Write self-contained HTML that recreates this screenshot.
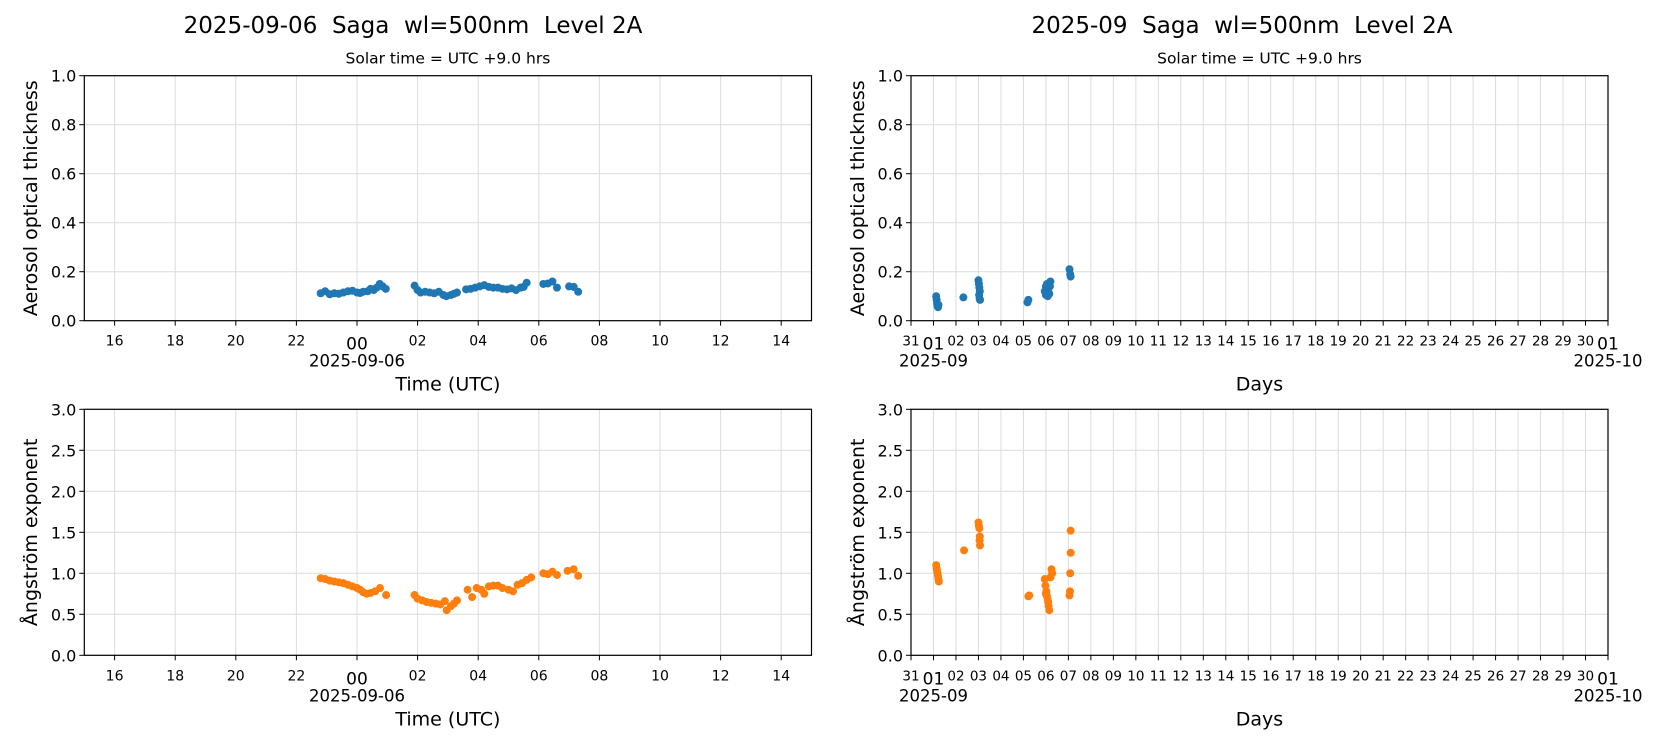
<!DOCTYPE html>
<html><head><meta charset="utf-8">
<style>
html,body{margin:0;padding:0;background:#fff;}
svg{display:block;font-family:"DejaVu Sans","Liberation Sans",sans-serif;}
text{white-space:pre;}
</style></head>
<body>
<svg id="fig" width="1654" height="737" viewBox="0 0 1654 737" xmlns="http://www.w3.org/2000/svg" xml:space="preserve">
<rect width="1654" height="737" fill="#fff"/>
<text x="413" y="33" font-size="23" text-anchor="middle">2025-09-06  Saga  wl=500nm  Level 2A</text>
<text x="1242" y="33" font-size="23" text-anchor="middle">2025-09  Saga  wl=500nm  Level 2A</text>
<g id="plots"></g>
</svg>
<script>
// Daily panel data: hours relative to 2025-09-06 00:00 UTC
const dayAotHours=[-1.2,-1.05,-0.9,-0.75,-0.6,-0.45,-0.3,-0.15,0,0.1,0.2,0.35,0.45,0.55,0.65,0.75,0.85,0.95,1.9,2.0,2.1,2.25,2.4,2.55,2.7,2.85,2.95,3.1,3.2,3.3,3.6,3.75,3.9,4.05,4.2,4.35,4.5,4.65,4.8,4.95,5.1,5.25,5.4,5.5,5.6,6.15,6.3,6.45,6.6,7.0,7.15,7.3];
const dayAotValues=[0.112,0.12,0.108,0.112,0.11,0.115,0.12,0.122,0.115,0.113,0.118,0.12,0.13,0.125,0.135,0.15,0.14,0.13,0.143,0.125,0.115,0.118,0.115,0.112,0.118,0.105,0.1,0.105,0.11,0.115,0.128,0.13,0.135,0.14,0.145,0.138,0.135,0.135,0.13,0.128,0.132,0.125,0.135,0.138,0.155,0.15,0.152,0.16,0.135,0.14,0.138,0.118];
const dayAngHours=[-1.2,-1.05,-0.9,-0.75,-0.6,-0.45,-0.3,-0.15,0,0.1,0.2,0.32,0.45,0.6,0.76,0.96,1.9,2.0,2.15,2.3,2.45,2.6,2.75,2.9,2.96,3.1,3.2,3.3,3.65,3.8,3.95,4.1,4.2,4.35,4.5,4.65,4.8,5.0,5.15,5.3,5.45,5.6,5.75,6.15,6.3,6.45,6.6,6.95,7.15,7.3];
const dayAngValues=[0.94,0.93,0.91,0.9,0.89,0.88,0.86,0.84,0.82,0.8,0.77,0.75,0.76,0.78,0.82,0.735,0.735,0.69,0.67,0.65,0.64,0.63,0.62,0.66,0.55,0.6,0.63,0.67,0.8,0.71,0.82,0.8,0.75,0.84,0.85,0.85,0.82,0.8,0.78,0.86,0.88,0.92,0.95,1.0,0.99,1.02,0.98,1.03,1.05,0.97];
// Monthly panel data: days since 2025-08-31 00:00 UTC
const monAotDays=[1.12,1.14,1.16,1.18,1.2,1.22,2.33,3.0,3.02,3.04,3.06,3.03,3.05,3.07,5.18,5.22,5.95,6.0,6.05,6.1,6.15,6.2,6.0,6.08,6.18,7.05,7.08,7.1];
const monAotValues=[0.1,0.085,0.07,0.06,0.055,0.065,0.095,0.165,0.15,0.135,0.12,0.105,0.09,0.085,0.075,0.085,0.12,0.14,0.15,0.13,0.11,0.16,0.105,0.1,0.14,0.21,0.19,0.18];
const monAngDays=[1.12,1.14,1.16,1.18,1.2,1.22,1.24,2.36,3.0,3.02,3.04,3.06,3.05,3.07,5.22,5.26,5.95,5.98,6.02,6.05,6.1,6.12,6.15,6.2,6.25,6.28,6.0,6.08,7.05,7.07,7.08,7.1,7.1];
const monAngValues=[1.1,1.06,1.03,1.0,0.97,0.93,0.9,1.28,1.62,1.58,1.55,1.45,1.4,1.34,0.72,0.73,0.93,0.85,0.78,0.72,0.65,0.6,0.55,0.95,1.05,1.0,0.75,0.68,0.73,0.78,1.0,1.25,1.52];
const dayHourTicks=[-8,-6,-4,-2,0,2,4,6,8,10,12,14];
const dayHourLabels=["16","18","20","22","00","02","04","06","08","10","12","14"];
const aotTicks=[0,0.2,0.4,0.6,0.8,1.0];
const angTicks=[0,0.5,1.0,1.5,2.0,2.5,3.0];
const monDayLabels=["31","01","02","03","04","05","06","07","08","09","10","11","12","13","14","15","16","17","18","19","20","21","22","23","24","25","26","27","28","29","30","01"];

const NS="http://www.w3.org/2000/svg";
const root=document.getElementById('plots');
function mk(tag,attrs,parent,text){const e=document.createElementNS(NS,tag);for(const k in attrs)e.setAttribute(k,attrs[k]);if(text!==undefined)e.textContent=text;(parent||root).appendChild(e);return e;}

function panel(o){
  const g=mk('g',{});
  
  
  const L=o.x0,R=o.x1,T=o.y0,B=o.y1;
  const sx=v=>L+(v-o.xmin)/(o.xmax-o.xmin)*(R-L);
  const sy=v=>B-(v-o.ymin)/(o.ymax-o.ymin)*(B-T);
  o.xt.forEach((t,i)=>{
    const ln=mk('line',{x1:sx(t),x2:sx(t),y1:T,y2:B,stroke:'#dcdcdc','stroke-width':1},g);
    
    
  });
  o.yt.forEach(t=>{
    const ln=mk('line',{x1:L,x2:R,y1:sy(t),y2:sy(t),stroke:'#dcdcdc','stroke-width':1},g);
    
    
  });
  o.xs.forEach((v,i)=>{
    const c=mk('circle',{cx:sx(v),cy:sy(o.ys[i]),r:4,fill:o.color},g);
    
    
  });
  const fr=mk('rect',{x:L,y:T,width:R-L,height:B-T,fill:'none',stroke:'#000','stroke-width':1.2},g);
  
  
  o.yt.forEach(t=>{
    mk('line',{x1:L-5,x2:L,y1:sy(t),y2:sy(t),stroke:'#000'},g);
    const tx=mk('text',{x:L-8,y:sy(t)+6,'font-size':16,'text-anchor':'end'},g,t.toFixed(1));
    
    
  });
  o.xt.forEach((t,i)=>{
    mk('line',{x1:sx(t),x2:sx(t),y1:B,y2:B+5,stroke:'#000'},g);
    const big=o.bigIdx.includes(i);
    const tx=mk('text',{x:sx(t),y:B+(big?29:25),'font-size':big?17:o.xfs,'text-anchor':'middle'},g,o.xl[i]);
    
    
  });
  o.dates.forEach(d=>{
    const tx=mk('text',{x:sx(d[0]),y:B+46,'font-size':16.5,'text-anchor':'middle'},g,d[1]);
    
    
  });
  const xl=mk('text',{x:(L+R)/2,y:B+70,'font-size':19,'text-anchor':'middle'},g,o.xlabel);
  
  
  const yx=o.ylx, yy=(T+B)/2;
  const yl=mk('text',{x:yx,y:yy,'font-size':19,'text-anchor':'middle',transform:`rotate(-90 ${yx} ${yy})`},g,o.ylabel);
  
  
  if(o.sub){
    const st=mk('text',{x:(L+R)/2,y:T-12,'font-size':15.5,'text-anchor':'middle'},g,o.sub);
    
    
  }
}
const monTicks=monDayLabels.map((_,i)=>i);
const C1='#1f77b4',C2='#ff7f0e';
const leftBase={x0:84.3,x1:811.5,xmin:-9,xmax:15,xt:dayHourTicks,xl:dayHourLabels,bigIdx:[4],xfs:14,dates:[[0,'2025-09-06']],xlabel:'Time (UTC)',ylx:37};
const rightBase={x0:911,x1:1608,xmin:0,xmax:31,xt:monTicks,xl:monDayLabels,bigIdx:[1,31],xfs:13.5,dates:[[1,'2025-09'],[31,'2025-10']],xlabel:'Days',ylx:864};
panel(Object.assign({},leftBase,{name:'daily-aot-panel',y0:75.7,y1:320.7,ymin:0,ymax:1,yt:aotTicks,xs:dayAotHours,ys:dayAotValues,color:C1,ylabel:'Aerosol optical thickness',sub:'Solar time = UTC +9.0 hrs'}));
panel(Object.assign({},leftBase,{name:'daily-angstrom-panel',y0:409.3,y1:655.3,ymin:0,ymax:3,yt:angTicks,xs:dayAngHours,ys:dayAngValues,color:C2,ylabel:'Ångström exponent'}));
panel(Object.assign({},rightBase,{name:'monthly-aot-panel',y0:75.7,y1:320.7,ymin:0,ymax:1,yt:aotTicks,xs:monAotDays,ys:monAotValues,color:C1,ylabel:'Aerosol optical thickness',sub:'Solar time = UTC +9.0 hrs'}));
panel(Object.assign({},rightBase,{name:'monthly-angstrom-panel',y0:409.3,y1:655.3,ymin:0,ymax:3,yt:angTicks,xs:monAngDays,ys:monAngValues,color:C2,ylabel:'Ångström exponent'}));
</script>
</body></html>
